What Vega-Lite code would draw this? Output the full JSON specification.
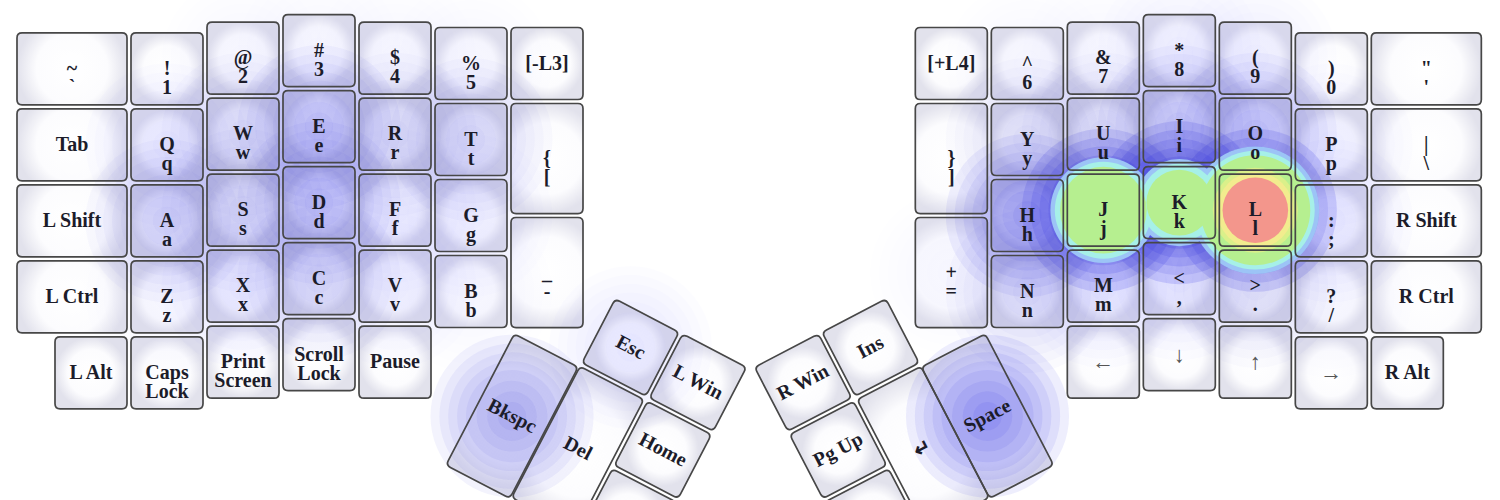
{
  "$schema": "https://vega.github.io/schema/vega-lite/v6.json",
  "width": 1500,
  "height": 500,
  "autosize": {"type": "none"},
  "padding": 0,
  "background": "white",
  "config": {"view": {"stroke": null}},
  "data": {"values": [
    {"k":"~\n`","x":0.75,"y":0.74,"s":"w15","a":0,"heat":0,"kind":"key"},
    {"k":"!\n1","x":2,"y":0.74,"s":"u1","a":0,"heat":0.03,"kind":"key"},
    {"k":"@\n2","x":3,"y":0.6,"s":"u1","a":0,"heat":0.07,"kind":"key"},
    {"k":"#\n3","x":4,"y":0.5,"s":"u1","a":0,"heat":0.07,"kind":"key"},
    {"k":"$\n4","x":5,"y":0.6,"s":"u1","a":0,"heat":0.06,"kind":"key"},
    {"k":"%\n5","x":6,"y":0.67,"s":"u1","a":0,"heat":0.06,"kind":"key"},
    {"k":"[-L3]","x":7,"y":0.67,"s":"u1","a":0,"heat":0,"kind":"key"},
    {"k":"Tab","x":0.75,"y":1.74,"s":"w15","a":0,"heat":0,"kind":"key"},
    {"k":"Q\nq","x":2,"y":1.74,"s":"u1","a":0,"heat":0.13,"kind":"key"},
    {"k":"W\nw","x":3,"y":1.6,"s":"u1","a":0,"heat":0.17,"kind":"key"},
    {"k":"E\ne","x":4,"y":1.5,"s":"u1","a":0,"heat":0.22,"kind":"key"},
    {"k":"R\nr","x":5,"y":1.6,"s":"u1","a":0,"heat":0.17,"kind":"key"},
    {"k":"T\nt","x":6,"y":1.67,"s":"u1","a":0,"heat":0.19,"kind":"key"},
    {"k":"{\n[","x":7,"y":1.92,"s":"h15","a":0,"heat":0.03,"kind":"key"},
    {"k":"L Shift","x":0.75,"y":2.74,"s":"w15","a":0,"heat":0,"kind":"key"},
    {"k":"A\na","x":2,"y":2.74,"s":"u1","a":0,"heat":0.2,"kind":"key"},
    {"k":"S\ns","x":3,"y":2.6,"s":"u1","a":0,"heat":0.17,"kind":"key"},
    {"k":"D\nd","x":4,"y":2.5,"s":"u1","a":0,"heat":0.22,"kind":"key"},
    {"k":"F\nf","x":5,"y":2.6,"s":"u1","a":0,"heat":0.11,"kind":"key"},
    {"k":"G\ng","x":6,"y":2.67,"s":"u1","a":0,"heat":0.11,"kind":"key"},
    {"k":"_\n-","x":7,"y":3.42,"s":"h15","a":0,"heat":0.04,"kind":"key"},
    {"k":"L Ctrl","x":0.75,"y":3.74,"s":"w15","a":0,"heat":0,"kind":"key"},
    {"k":"Z\nz","x":2,"y":3.74,"s":"u1","a":0,"heat":0.09,"kind":"key"},
    {"k":"X\nx","x":3,"y":3.6,"s":"u1","a":0,"heat":0.13,"kind":"key"},
    {"k":"C\nc","x":4,"y":3.5,"s":"u1","a":0,"heat":0.19,"kind":"key"},
    {"k":"V\nv","x":5,"y":3.6,"s":"u1","a":0,"heat":0.11,"kind":"key"},
    {"k":"B\nb","x":6,"y":3.67,"s":"u1","a":0,"heat":0.09,"kind":"key"},
    {"k":"L Alt","x":1,"y":4.74,"s":"u1","a":0,"heat":0,"kind":"key"},
    {"k":"Caps\nLock","x":2,"y":4.74,"s":"u1","a":0,"heat":0.03,"kind":"key"},
    {"k":"Print\nScreen","x":3,"y":4.6,"s":"u1","a":0,"heat":0.04,"kind":"key"},
    {"k":"Scroll\nLock","x":4,"y":4.5,"s":"u1","a":0,"heat":0.04,"kind":"key"},
    {"k":"Pause","x":5,"y":4.6,"s":"u1","a":0,"heat":0.03,"kind":"key"},
    {"k":"Esc","x":8.099,"y":4.407,"s":"u1","a":27.5,"heat":0.13,"kind":"thumb"},
    {"k":"L Win","x":8.986,"y":4.868,"s":"u1","a":27.5,"heat":0.04,"kind":"thumb"},
    {"k":"Home","x":8.524,"y":5.755,"s":"u1","a":27.5,"heat":0.03,"kind":"thumb"},
    {"k":"End","x":8.062,"y":6.642,"s":"u1","a":27.5,"heat":0,"kind":"thumb"},
    {"k":"Del","x":7.405,"y":5.737,"s":"h2","a":27.5,"heat":0.05,"kind":"thumb"},
    {"k":"Bkspc","x":6.54,"y":5.31,"s":"h2","a":27.5,"heat":0.28,"kind":"thumb"},
    {"k":"Ins","x":11.257,"y":4.407,"s":"u1","a":-27.5,"heat":0,"kind":"thumb"},
    {"k":"R Win","x":10.37,"y":4.868,"s":"u1","a":-27.5,"heat":0,"kind":"thumb"},
    {"k":"Pg Up","x":10.832,"y":5.755,"s":"u1","a":-27.5,"heat":0,"kind":"thumb"},
    {"k":"Pg Dn","x":11.293,"y":6.642,"s":"u1","a":-27.5,"heat":0,"kind":"thumb"},
    {"k":"↵","x":11.95,"y":5.737,"s":"h2","a":-27.5,"heat":0.05,"kind":"thumb"},
    {"k":"Space","x":12.796,"y":5.31,"s":"h2","a":-27.5,"heat":0.34,"kind":"thumb"},
    {"k":"[+L4]","x":12.32,"y":0.67,"s":"u1","a":0,"heat":0,"kind":"key"},
    {"k":"}\n]","x":12.32,"y":1.92,"s":"h15","a":0,"heat":0.04,"kind":"key"},
    {"k":"+\n=","x":12.32,"y":3.42,"s":"h15","a":0,"heat":0.06,"kind":"key"},
    {"k":"^\n6","x":13.32,"y":0.67,"s":"u1","a":0,"heat":0.06,"kind":"key"},
    {"k":"Y\ny","x":13.32,"y":1.67,"s":"u1","a":0,"heat":0.17,"kind":"key"},
    {"k":"H\nh","x":13.32,"y":2.67,"s":"u1","a":0,"heat":0.31,"kind":"key"},
    {"k":"N\nn","x":13.32,"y":3.67,"s":"u1","a":0,"heat":0.19,"kind":"key"},
    {"k":"&\n7","x":14.32,"y":0.6,"s":"u1","a":0,"heat":0.09,"kind":"key"},
    {"k":"U\nu","x":14.32,"y":1.6,"s":"u1","a":0,"heat":0.17,"kind":"key"},
    {"k":"J\nj","x":14.32,"y":2.6,"s":"u1","a":0,"heat":0.8,"kind":"key"},
    {"k":"M\nm","x":14.32,"y":3.6,"s":"u1","a":0,"heat":0.15,"kind":"key"},
    {"k":"←","x":14.32,"y":4.6,"s":"u1","a":0,"heat":0.03,"kind":"arrow"},
    {"k":"*\n8","x":15.32,"y":0.5,"s":"u1","a":0,"heat":0.11,"kind":"key"},
    {"k":"I\ni","x":15.32,"y":1.5,"s":"u1","a":0,"heat":0.21,"kind":"key"},
    {"k":"K\nk","x":15.32,"y":2.5,"s":"u1","a":0,"heat":0.66,"kind":"key"},
    {"k":"<\n,","x":15.32,"y":3.5,"s":"u1","a":0,"heat":0.15,"kind":"key"},
    {"k":"↓","x":15.32,"y":4.5,"s":"u1","a":0,"heat":0.03,"kind":"arrow"},
    {"k":"(\n9","x":16.32,"y":0.6,"s":"u1","a":0,"heat":0.11,"kind":"key"},
    {"k":"O\no","x":16.32,"y":1.6,"s":"u1","a":0,"heat":0.23,"kind":"key"},
    {"k":"L\nl","x":16.32,"y":2.6,"s":"u1","a":0,"heat":1.0,"kind":"key"},
    {"k":">\n.","x":16.32,"y":3.6,"s":"u1","a":0,"heat":0.17,"kind":"key"},
    {"k":"↑","x":16.32,"y":4.6,"s":"u1","a":0,"heat":0.03,"kind":"arrow"},
    {"k":")\n0","x":17.32,"y":0.74,"s":"u1","a":0,"heat":0.05,"kind":"key"},
    {"k":"P\np","x":17.32,"y":1.74,"s":"u1","a":0,"heat":0.11,"kind":"key"},
    {"k":":\n;","x":17.32,"y":2.74,"s":"u1","a":0,"heat":0.15,"kind":"key"},
    {"k":"?\n/","x":17.32,"y":3.74,"s":"u1","a":0,"heat":0.07,"kind":"key"},
    {"k":"→","x":17.32,"y":4.74,"s":"u1","a":0,"heat":0.03,"kind":"arrow"},
    {"k":"\"\n'","x":18.57,"y":0.74,"s":"w15","a":0,"heat":0.03,"kind":"key"},
    {"k":"|\n\\","x":18.57,"y":1.74,"s":"w15","a":0,"heat":0.03,"kind":"key"},
    {"k":"R Shift","x":18.57,"y":2.74,"s":"w15","a":0,"heat":0.03,"kind":"key"},
    {"k":"R Ctrl","x":18.57,"y":3.74,"s":"w15","a":0,"heat":0.03,"kind":"key"},
    {"k":"R Alt","x":18.32,"y":4.74,"s":"u1","a":0,"heat":0,"kind":"key"}
  ]},
  "encoding": {
    "x": {"field": "x", "type": "quantitative", "axis": null, "scale": {"domain": [-0.19737, 19.5395], "nice": false, "zero": false}},
    "y": {"field": "y", "type": "quantitative", "axis": null, "scale": {"domain": [-0.1658, 6.4132], "nice": false, "zero": false, "reverse": true}}
  },
  "layer": [
    {
      "mark": {"type": "point", "filled": true, "opacity": 1, "strokeWidth": 0, "size": 5184,
        "fill": {"gradient": "radial", "stops": [{"offset": 0, "color": "#ffffff"}, {"offset": 0.65, "color": "#fcfcfe"}, {"offset": 1, "color": "#e2e2ec"}]}},
      "encoding": {
        "shape": {"field": "s", "type": "nominal", "legend": null, "scale": {"domain": ["u1", "w15", "h15", "h2"], "range": [
          "M-0.86,-1L0.86,-1Q1,-1 1,-0.86L1,0.86Q1,1 0.86,1L-0.86,1Q-1,1 -1,0.86L-1,-0.86Q-1,-1 -0.86,-1Z",
          "M-1.388,-1L1.388,-1Q1.528,-1 1.528,-0.86L1.528,0.86Q1.528,1 1.388,1L-1.388,1Q-1.528,1 -1.528,0.86L-1.528,-0.86Q-1.528,-1 -1.388,-1Z",
          "M-0.86,-1.528L0.86,-1.528Q1,-1.528 1,-1.388L1,1.388Q1,1.528 0.86,1.528L-0.86,1.528Q-1,1.528 -1,1.388L-1,-1.388Q-1,-1.528 -0.86,-1.528Z",
          "M-0.86,-2.056L0.86,-2.056Q1,-2.056 1,-1.916L1,1.916Q1,2.056 0.86,2.056L-0.86,2.056Q-1,2.056 -1,1.916L-1,-1.916Q-1,-2.056 -0.86,-2.056Z"]}},
        "angle": {"field": "a", "type": "quantitative", "scale": null}
      }
    },
    {"transform": [{"filter": "datum.heat > 0"}], "mark": {"type": "point", "shape": "circle", "filled": true, "color": "#2a2ae0", "strokeWidth": 0, "size": 26590},
      "encoding": {"opacity": {"field": "heat", "type": "quantitative", "legend": null, "scale": {"type": "pow", "exponent": 2, "domain": [0, 0.45], "range": [0, 0.14], "clamp": true}}}},
    {"transform": [{"filter": "datum.heat > 0"}], "mark": {"type": "point", "shape": "circle", "filled": true, "color": "#2a2ae0", "strokeWidth": 0, "size": 21124},
      "encoding": {"opacity": {"field": "heat", "type": "quantitative", "legend": null, "scale": {"type": "pow", "exponent": 2, "domain": [0, 0.45], "range": [0, 0.14], "clamp": true}}}},
    {"transform": [{"filter": "datum.heat > 0"}], "mark": {"type": "point", "shape": "circle", "filled": true, "color": "#2a2ae0", "strokeWidth": 0, "size": 16286},
      "encoding": {"opacity": {"field": "heat", "type": "quantitative", "legend": null, "scale": {"type": "pow", "exponent": 2, "domain": [0, 0.45], "range": [0, 0.14], "clamp": true}}}},
    {"transform": [{"filter": "datum.heat > 0"}], "mark": {"type": "point", "shape": "circle", "filled": true, "color": "#2a2ae0", "strokeWidth": 0, "size": 12076},
      "encoding": {"opacity": {"field": "heat", "type": "quantitative", "legend": null, "scale": {"type": "pow", "exponent": 2, "domain": [0, 0.45], "range": [0, 0.14], "clamp": true}}}},
    {"transform": [{"filter": "datum.heat > 0"}], "mark": {"type": "point", "shape": "circle", "filled": true, "color": "#2a2ae0", "strokeWidth": 0, "size": 8495},
      "encoding": {"opacity": {"field": "heat", "type": "quantitative", "legend": null, "scale": {"type": "pow", "exponent": 2, "domain": [0, 0.45], "range": [0, 0.14], "clamp": true}}}},
    {"transform": [{"filter": "datum.heat > 0"}], "mark": {"type": "point", "shape": "circle", "filled": true, "color": "#2a2ae0", "strokeWidth": 0, "size": 5027},
      "encoding": {"opacity": {"field": "heat", "type": "quantitative", "legend": null, "scale": {"type": "pow", "exponent": 2, "domain": [0, 0.45], "range": [0, 0.14], "clamp": true}}}},
    {"transform": [{"filter": "datum.heat > 0"}], "mark": {"type": "point", "shape": "circle", "filled": true, "color": "#2a2ae0", "strokeWidth": 0, "size": 2463},
      "encoding": {"opacity": {"field": "heat", "type": "quantitative", "legend": null, "scale": {"type": "pow", "exponent": 2, "domain": [0, 0.45], "range": [0, 0.14], "clamp": true}}}},
    {"transform": [{"filter": "datum.heat > 0"}], "mark": {"type": "point", "shape": "circle", "filled": true, "color": "#2a2ae0", "strokeWidth": 0, "size": 804},
      "encoding": {"opacity": {"field": "heat", "type": "quantitative", "legend": null, "scale": {"type": "pow", "exponent": 2, "domain": [0, 0.45], "range": [0, 0.14], "clamp": true}}}},
    {"transform": [{"filter": "datum.heat > 0.36"}], "mark": {"type": "point", "shape": "circle", "filled": true, "color": "#9cc4f6", "opacity": 1, "strokeWidth": 0},
      "encoding": {"size": {"field": "heat", "type": "quantitative", "legend": null, "scale": {"type": "linear", "domain": [0.36, 1], "range": [0, 16286], "clamp": true}}}},
    {"transform": [{"filter": "datum.heat > 0.4"}], "mark": {"type": "point", "shape": "circle", "filled": true, "color": "#a6f0e8", "opacity": 1, "strokeWidth": 0},
      "encoding": {"size": {"field": "heat", "type": "quantitative", "legend": null, "scale": {"type": "linear", "domain": [0.4, 1], "range": [0, 14103], "clamp": true}}}},
    {"transform": [{"filter": "datum.heat > 0.47"}], "mark": {"type": "point", "shape": "circle", "filled": true, "color": "#b6ef90", "opacity": 1, "strokeWidth": 0},
      "encoding": {"size": {"field": "heat", "type": "quantitative", "legend": null, "scale": {"type": "linear", "domain": [0.47, 1], "range": [0, 12076], "clamp": true}}}},
    {"transform": [{"filter": "datum.heat > 0.82"}], "mark": {"type": "point", "shape": "circle", "filled": true, "color": "#daf08a", "opacity": 1, "strokeWidth": 0},
      "encoding": {"size": {"field": "heat", "type": "quantitative", "legend": null, "scale": {"type": "linear", "domain": [0.82, 1], "range": [0, 7238], "clamp": true}}}},
    {"transform": [{"filter": "datum.heat > 0.86"}], "mark": {"type": "point", "shape": "circle", "filled": true, "color": "#f2ec8e", "opacity": 1, "strokeWidth": 0},
      "encoding": {"size": {"field": "heat", "type": "quantitative", "legend": null, "scale": {"type": "linear", "domain": [0.86, 1], "range": [0, 5809], "clamp": true}}}},
    {"transform": [{"filter": "datum.heat > 0.9"}], "mark": {"type": "point", "shape": "circle", "filled": true, "color": "#f3968c", "opacity": 1, "strokeWidth": 0},
      "encoding": {"size": {"field": "heat", "type": "quantitative", "legend": null, "scale": {"type": "linear", "domain": [0.9, 1], "range": [0, 4301], "clamp": true}}}},
    {
      "mark": {"type": "point", "filled": false, "opacity": 1, "stroke": "#474747", "strokeWidth": 1.7, "size": 5184},
      "encoding": {
        "shape": {"field": "s", "type": "nominal", "legend": null},
        "angle": {"field": "a", "type": "quantitative", "scale": null}
      }
    },
    {
      "transform": [{"filter": "datum.kind != 'arrow' && datum.y < 6.3"}],
      "mark": {"type": "text", "font": "Liberation Serif", "fontWeight": "bold", "fontSize": 20, "lineHeight": 19, "lineBreak": "\n", "align": "center", "baseline": "middle", "color": "#1c1c2a"},
      "encoding": {
        "text": {"field": "k", "type": "nominal"},
        "angle": {"field": "a", "type": "quantitative", "scale": null}
      }
    },
    {
      "transform": [{"filter": "datum.kind == 'arrow'"}],
      "mark": {"type": "text", "font": "Liberation Serif", "fontSize": 22, "align": "center", "baseline": "middle", "color": "#555555"},
      "encoding": {"text": {"field": "k", "type": "nominal"}}
    }
  ],
  "resolve": {"scale": {"size": "independent", "opacity": "independent"}}
}
